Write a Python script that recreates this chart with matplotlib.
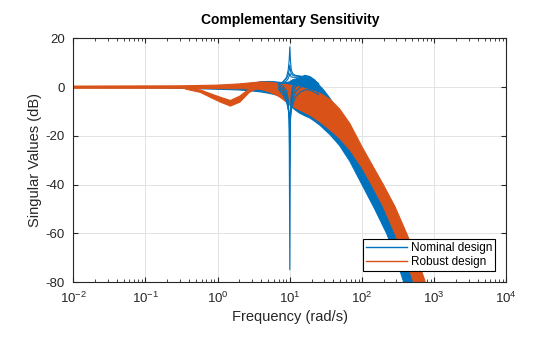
import matplotlib
matplotlib.use("Agg")
import matplotlib.pyplot as plt
import matplotlib.ticker as mticker
import numpy as np

plt.rcParams['font.family'] = ['Liberation Sans', 'DejaVu Sans']
plt.rcParams['mathtext.default'] = 'regular'
plt.rcParams['axes.unicode_minus'] = False

blue = '#0072BD'
orange = '#D95319'
txt = '#262626'

# nominal design: upper and lower edge of the bundle (rad/s, dB)
nom_hi_w = [0.01, 0.1, 0.3, 1, 2, 3, 4, 5, 6, 7, 8, 9, 10, 11, 12, 13.7, 16.2, 19, 22, 26,
            30, 36, 49, 65, 90, 133, 200, 291, 372, 490, 665]
nom_hi_db = [0.2, 0.2, 0.1, 0.0, 0.3, 1.5, 2.2, 2.3, 2.2, 2.0, 1.8, 1.8, 2.2, 3.0, 3.3, 3.8, 4.8, 4.3, 3.0, 0.5,
             -1.5, -4.6, -11.0, -19.0, -28.0, -38.5, -49.0, -59.0, -67.0, -78.0, -91.0]
nom_lo_w = [0.01, 0.1, 0.3, 1, 2, 3, 4, 5, 6, 7, 8, 9, 10, 11, 12, 13.7, 16.2, 19, 22, 26,
            36, 49, 68, 100, 150, 219, 280, 369, 500]
nom_lo_db = [-0.2, -0.3, -0.5, -0.9, -1.2, -1.6, -2.0, -2.5, -3.0, -3.5, -4.5, -5.5, -7.0, -8.5, -9.5, -10.7, -11.8, -12.7, -14.0, -15.6,
             -19.5, -24.0, -30.5, -40.0, -50.0, -60.0, -68.0, -79.0, -92.0]

# nominal design: samples with the lightly damped mode near 10 rad/s
spike_w = [7, 8, 9, 9.5, 9.8, 10, 10.2, 10.5, 11, 12, 14, 17, 20, 25]
peak1 = [1.5, 2.0, 4.0, 7.0, 11.0, 16.5, 11.0, 7.0, 5.5, 4.8, 4.5, 4.2, 3.5, 1.5]
peak2 = [1.5, 2.0, 3.5, 5.0, 7.0, 9.0, 7.0, 5.5, 4.8, 4.5, 4.3, 4.0, 3.3, 1.3]
peak3 = [1.2, 1.6, 2.5, 3.5, 4.5, 5.5, 4.8, 4.2, 4.0, 4.0, 4.0, 3.8, 3.0, 1.0]
notch1 = [1.0, 0.5, -1.5, -5.0, -12.0, -75.0, -12.0, -3.0, 0.5, 2.5, 3.5, 3.8, 3.2, 1.0]
notch2 = [0.5, -0.5, -3.0, -7.0, -14.0, -32.0, -13.0, -5.0, -1.0, 1.5, 2.5, 3.0, 2.5, 0.5]
notch3 = [0.0, -1.0, -4.0, -8.0, -13.0, -20.0, -14.0, -8.0, -3.0, 0.0, 1.5, 2.0, 1.5, -0.5]
notch4 = [-0.5, -2.0, -5.0, -9.0, -12.0, -14.0, -12.0, -9.0, -5.0, -2.0, 0.0, 0.5, 0.0, -2.0]
notch5 = [-1.0, -3.0, -6.0, -9.0, -10.5, -11.0, -10.5, -9.5, -7.0, -4.0, -2.0, -1.0, -1.5, -3.0]

# robust design: upper and lower edge of the bundle
rob_hi_w = [0.01, 0.3, 1, 2, 3, 4, 5, 7, 10, 13.7, 19, 26, 36, 49, 68, 80, 100, 145, 197, 286, 415, 600, 735, 1000]
rob_hi_db = [0.4, 0.5, 0.8, 1.3, 1.8, 2.1, 2.0, 1.5, 0.8, 0.1, -1.2, -2.5, -5.0, -9.0, -15.0, -19.0, -24.5, -33.0, -40.0, -49.0, -60.0, -71.5, -79.0, -92.0]
rob_lo_w = [0.01, 0.3, 3, 4, 5, 6, 7, 8, 10, 13.7, 19, 26, 36, 49, 69, 100, 136, 197, 286, 415, 507, 698]
rob_lo_db = [-0.5, -0.5, -0.7, -1.0, -1.8, -2.8, -3.8, -5.0, -7.4, -9.4, -11.5, -14.2, -17.5, -21.0, -26.0, -33.0, -40.0, -49.0, -60.0, -71.5, -79.0, -92.0]

# robust design: samples that sag around 1.5 rad/s
dip_w = [0.35, 0.57, 0.78, 1.08, 1.48, 2.0, 2.7, 3.5]
dip_hi = [-0.3, -1.0, -2.5, -4.0, -5.3, -3.5, -0.5, 0.5]
dip_lo = [-0.6, -2.0, -4.0, -6.0, -7.6, -6.0, -2.0, -0.3]

xticks = [1e-2, 1e-1, 1e0, 1e1, 1e2, 1e3, 1e4]
yticks = [-80, -60, -40, -20, 0, 20]

fig = plt.figure(figsize=(5.6, 3.37), dpi=100)
ax = fig.add_axes([0.1309, 0.1632, 0.7732, 0.7231])

ax.fill(nom_hi_w + nom_lo_w[::-1], nom_hi_db + nom_lo_db[::-1], color=blue, lw=0.8)
for c in [peak1, peak2, peak3, notch1, notch2, notch3, notch4, notch5]:
    ax.plot(spike_w, c, color=blue, lw=0.8)
ax.fill(rob_hi_w + rob_lo_w[::-1], rob_hi_db + rob_lo_db[::-1], color=orange, lw=0.8)
ax.fill_between(dip_w, dip_lo, dip_hi, color=orange, lw=0.8)

ax.plot([], [], color=blue, lw=1, label='Nominal design')
ax.plot([], [], color=orange, lw=1, label='Robust design')

ax.set_xscale('log')
ax.set_xlim(1e-2, 1e4)
ax.set_ylim(-80, 20)
ax.set_xticks(xticks)
ax.set_yticks(yticks)
ax.xaxis.set_minor_locator(mticker.LogLocator(base=10, subs=np.arange(2, 10), numticks=20))
ax.xaxis.set_minor_formatter(mticker.NullFormatter())
ax.set_axisbelow(True)
ax.grid(True, which='major', color='#dedede', lw=0.6)
ax.tick_params(which='both', direction='in', top=True, right=True, colors=txt, labelsize=9.5)
ax.tick_params(which='major', length=3.5)
ax.tick_params(which='minor', length=2)
ax.tick_params(axis='x', which='major', pad=6)
ax.tick_params(axis='y', which='major', pad=6)
for s in ax.spines.values():
    s.set_color(txt)
    s.set_linewidth(0.8)

ax.set_title('Complementary Sensitivity', fontsize=10, fontweight='bold', pad=10)
ax.set_xlabel('Frequency (rad/s)', fontsize=10.5, color=txt, labelpad=3)
ax.set_ylabel('Singular Values (dB)', fontsize=10.5, color=txt, labelpad=3)

leg = ax.legend(loc='lower right', bbox_to_anchor=(0.974, 0.045), borderaxespad=0,
                fontsize=8.5, handlelength=3.4, fancybox=False, framealpha=1,
                borderpad=0.25, labelspacing=0.15, handletextpad=0.35)
leg.get_frame().set_edgecolor('black')
leg.get_frame().set_linewidth(0.8)

fig.savefig('out.png', dpi=100)
